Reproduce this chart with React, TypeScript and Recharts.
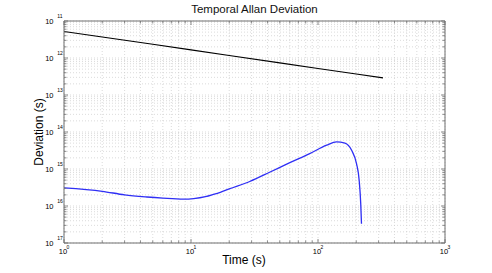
import { CartesianGrid, Line, LineChart, ReferenceLine, XAxis, YAxis } from "recharts";

const refTau = [1, 2, 5, 10, 20, 50, 100, 200, 325];
const refDev = [5.2e-12, 3.7e-12, 2.35e-12, 1.65e-12, 1.17e-12, 7.4e-13, 5.2e-13, 3.7e-13, 2.9e-13];

const measTau = [1, 2, 3, 4.5, 6, 8.7, 10.5, 13, 15, 17, 20, 29, 42, 60, 86, 117, 140, 163, 184, 201, 211, 217, 220];
const measDev = [
  3.1e-16, 2.5e-16, 2.0e-16, 1.75e-16, 1.63e-16, 1.53e-16, 1.58e-16, 1.78e-16, 2.05e-16, 2.35e-16, 2.9e-16,
  4.6e-16, 8.3e-16, 1.48e-15, 2.6e-15, 4.4e-15, 5.4e-15, 5.0e-15, 3.2e-15, 1.4e-15, 4.9e-16, 1.16e-16, 3.3e-17,
];

const xDecades = [1, 10, 100, 1000];
const xTickLabels = ["0", "1", "2", "3"];
const yDecades = [1e-17, 1e-16, 1e-15, 1e-14, 1e-13, 1e-12, 1e-11];
const yTickLabels = ["17", "16", "15", "14", "13", "12", "11"];

const W = 492;
const H = 273;
const LEFT = 64;
const RIGHT = 445;
const TOP = 21;
const BOTTOM = 243;
const AXIS = "#6e6e6e";
const FONT = "'Liberation Sans', Arial, Helvetica, sans-serif";

const minors = (decades: number[]) => {
  const out: number[] = [];
  decades.slice(0, -1).forEach((d) => {
    for (let m = 1; m < 10; m++) out.push(+(d * m).toPrecision(3));
  });
  out.push(decades[decades.length - 1]);
  return out;
};
const xTicks = minors(xDecades);
const yTicks = minors(yDecades);

const refData = refTau.map((tau, i) => ({ tau, dev: refDev[i] }));
const measData = measTau.map((tau, i) => ({ tau, dev: measDev[i] }));

function XTick(props: any) {
  const { x, payload } = props;
  const idx = xDecades.indexOf(payload.value);
  const len = idx >= 0 ? 4 : 2.5;
  return (
    <g>
      <line x1={x} x2={x} y1={BOTTOM} y2={BOTTOM - len} stroke={AXIS} strokeWidth={0.8} />
      <line x1={x} x2={x} y1={TOP} y2={TOP + len} stroke={AXIS} strokeWidth={0.8} />
      {idx >= 0 && (
        <>
          <text x={x - 1} y={254} textAnchor="middle" fontSize={7.5} fill="#000" fontFamily={FONT}>
            10
          </text>
          <text x={x + 2.6} y={249} textAnchor="start" fontSize={5} fill="#000" fontFamily={FONT}>
            {xTickLabels[idx]}
          </text>
        </>
      )}
    </g>
  );
}

function YTick(props: any) {
  const { y, payload } = props;
  const idx = yDecades.findIndex((d) => Math.abs(d - payload.value) < d * 1e-6);
  const len = idx >= 0 ? 4 : 2.5;
  return (
    <g>
      <line x1={LEFT} x2={LEFT + len} y1={y} y2={y} stroke={AXIS} strokeWidth={0.8} />
      <line x1={RIGHT} x2={RIGHT - len} y1={y} y2={y} stroke={AXIS} strokeWidth={0.8} />
      {idx >= 0 && (
        <>
          <text x={53.5} y={y + 2.8} textAnchor="end" fontSize={7.5} fill="#000" fontFamily={FONT}>
            10
          </text>
          <text x={57.3} y={y - 3} textAnchor="start" fontSize={5} fill="#000" fontFamily={FONT}>
            {yTickLabels[idx]}
          </text>
        </>
      )}
    </g>
  );
}

export default function App() {
  return (
    <div style={{ position: "absolute", left: 0, top: 0, width: W, height: H, background: "#fff" }}>
      <LineChart width={W} height={H} margin={{ top: TOP, right: W - RIGHT, bottom: 0, left: 0 }}>
        <CartesianGrid stroke="#cccccc" strokeDasharray="1 2" strokeWidth={0.7} />
        <XAxis
          dataKey="tau"
          type="number"
          scale="log"
          domain={[1, 1000]}
          ticks={xTicks}
          interval={0}
          allowDataOverflow
          height={H - BOTTOM}
          tickLine={false}
          axisLine={{ stroke: AXIS, strokeWidth: 1 }}
          tick={<XTick />}
        />
        <YAxis
          type="number"
          scale="log"
          domain={[1e-17, 1e-11]}
          ticks={yTicks}
          interval={0}
          allowDataOverflow
          width={LEFT}
          tickLine={false}
          axisLine={{ stroke: AXIS, strokeWidth: 1 }}
          tick={<YTick />}
        />
        <ReferenceLine x={1000} stroke={AXIS} strokeWidth={1} />
        <ReferenceLine y={1e-11} stroke={AXIS} strokeWidth={1} />
        <Line
          data={refData}
          dataKey="dev"
          type="linear"
          stroke="#000"
          strokeWidth={1.2}
          dot={false}
          isAnimationActive={false}
        />
        <Line
          data={measData}
          dataKey="dev"
          type="monotone"
          stroke="#2f2ff5"
          strokeWidth={1.3}
          dot={false}
          isAnimationActive={false}
        />
        <text x={(LEFT + RIGHT) / 2} y={13} textAnchor="middle" fontSize={11.5} fill="#111" fontFamily={FONT}>
          Temporal Allan Deviation
        </text>
        <text x={244} y={264} textAnchor="middle" fontSize={12} fill="#000" fontFamily={FONT}>
          Time (s)
        </text>
        <text
          x={43}
          y={(TOP + BOTTOM) / 2}
          textAnchor="middle"
          fontSize={12}
          fill="#000"
          fontFamily={FONT}
          transform={`rotate(-90 43 ${(TOP + BOTTOM) / 2})`}
        >
          Deviation (s)
        </text>
      </LineChart>
    </div>
  );
}
